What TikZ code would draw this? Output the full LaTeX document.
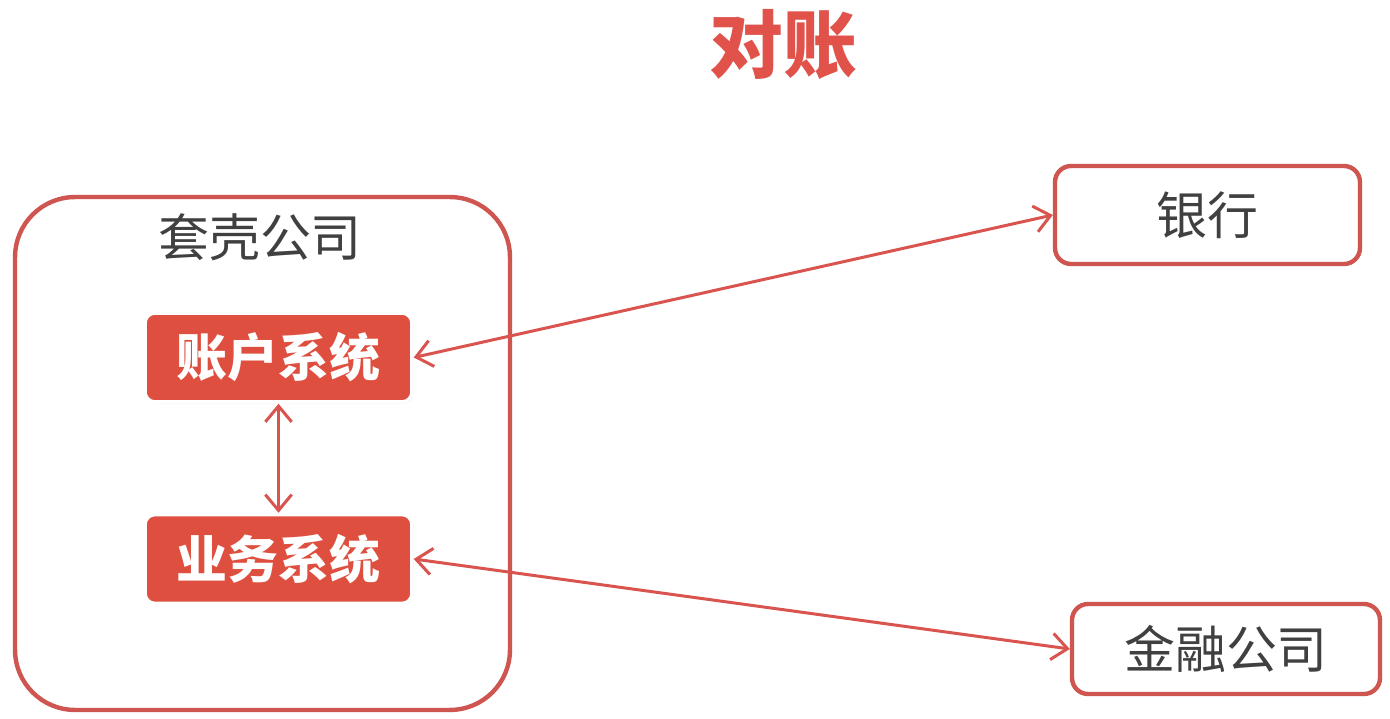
\documentclass[tikz,border=0pt]{standalone}
\usepackage{fontspec}
\newfontfamily\cjk{Noto Sans CJK SC}
\usetikzlibrary{arrows.meta,shadows}
\definecolor{boxred}{HTML}{DF4F40}
\definecolor{edgered}{HTML}{CF5650}
\definecolor{arrred}{HTML}{D9534F}
\definecolor{titlered}{HTML}{E0524A}
\definecolor{txtgray}{HTML}{404040}
\tikzset{
  px/.style={x=0.02cm,y=-0.02cm},
  outerbox/.style={draw=edgered,line width=2.5pt,fill=white,
    drop shadow={opacity=0.18,shadow xshift=0.6pt,shadow yshift=-0.6pt}},
  sysbox/.style={fill=boxred,draw=white,line width=2pt,rounded corners=0.2cm,
    minimum width=5.34cm,minimum height=1.78cm,text=white,
    font=\cjk\bfseries\fontsize{29}{32}\selectfont,
    drop shadow={opacity=0.25,shadow xshift=0.8pt,shadow yshift=-0.8pt}},
  extbox/.style={outerbox,rounded corners=0.32cm,text=txtgray,
    font=\cjk\fontsize{29}{32}\selectfont},
  arr/.style={draw=arrred,line width=1.7pt,
    {Straight Barb[length=9pt,width=15pt]}-{Straight Barb[length=9pt,width=15pt]}}
}
\begin{document}
\begin{tikzpicture}[px]
\useasboundingbox[fill=white] (0,0) rectangle (1390,719);
\node[text=titlered,font=\cjk\bfseries\fontsize{42}{46}\selectfont] (title) at (783,45) {对账};
\node[outerbox,rounded corners=1.2cm,minimum width=9.9cm,minimum height=10.26cm] (shell) at (262.5,453.5) {};
\node[text=txtgray,font=\cjk\fontsize{29}{32}\selectfont] (shelllabel) at (260,237) {套壳公司};
\node[sysbox] (acct) at (278.5,357.5) {账户系统};
\node[sysbox] (biz) at (278.5,559) {业务系统};
\node[extbox,minimum width=6.1cm,minimum height=1.96cm] (bank) at (1207.5,215) {银行};
\node[extbox,minimum width=6.16cm,minimum height=1.8cm] (fin) at (1226,649) {金融公司};
\draw[arr] (acct.south) -- (biz.north);
\draw[arr] (acct.east) -- (bank.west);
\draw[arr] (biz.east) -- (fin.west);
\end{tikzpicture}
\end{document}
